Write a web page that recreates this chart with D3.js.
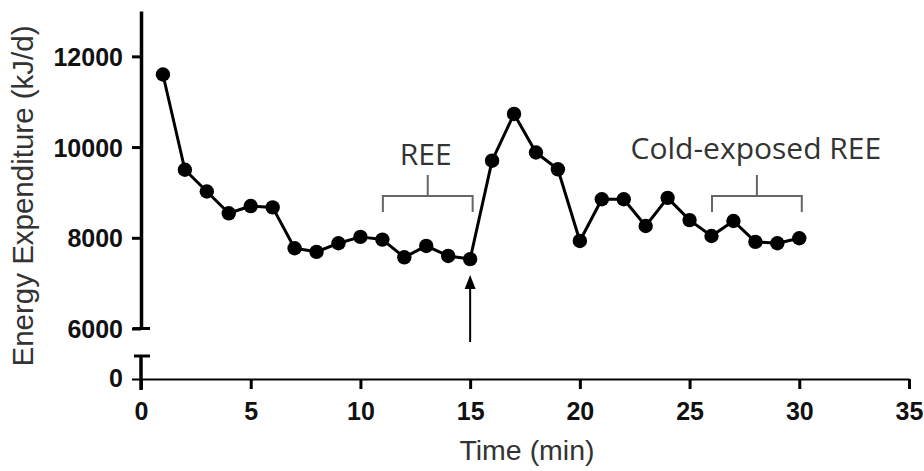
<!DOCTYPE html>
<html>
<head>
<meta charset="utf-8">
<script src="https://cdn.jsdelivr.net/npm/d3@7/dist/d3.min.js"></script>
<style>
  html, body { margin: 0; padding: 0; background: #fff; }
  svg { display: block; }
</style>
</head>
<body>
<svg id="chart" width="924" height="471"></svg>
<script>
// Energy expenditure measured each minute (kJ/d)
const times = [1, 2, 3, 4, 5, 6, 7, 8, 9, 10, 11, 12, 13, 14, 15,
               16, 17, 18, 19, 20, 21, 22, 23, 24, 25, 26, 27, 28, 29, 30];
const energy = [11600, 9500, 9020, 8540, 8700, 8670, 7770, 7690, 7880, 8020, 7960, 7570, 7820, 7600, 7530,
                9700, 10730, 9880, 9510, 7930, 8850, 8850, 8260, 8880, 8390, 8040, 8370, 7910, 7880, 7990];

const xTicks = [0, 5, 10, 15, 20, 25, 30, 35];
const yTicksUpper = [6000, 8000, 10000, 12000];
const yTicksLower = [0];

// Bracketed measurement windows and the marker for the start of cold exposure
const windows = [
  { label: "REE", start: 11, end: 15 },
  { label: "Cold-exposed REE", start: 26, end: 30 }
];
const coldStart = 15;

const svg = d3.select("#chart");

const x = d3.scaleLinear().domain([0, 35]).range([141, 909]);
const y = d3.scaleLinear().domain([6000, 13000]).range([328.5, 11]);
// Broken axis: a short lower segment holding only zero
const yLow = d3.scaleLinear().domain([0, 1000]).range([379, 356]);

const tickFont = "'Liberation Sans', Arial, sans-serif";
const fmt = d3.format("d");

// X axis
const xAxis = svg.append("g")
  .attr("transform", `translate(0,${yLow(0)})`)
  .call(d3.axisBottom(x).tickValues(xTicks).tickFormat(fmt).tickSize(10).tickSizeOuter(0).tickPadding(13));
xAxis.select(".domain").attr("stroke", "#000").attr("stroke-width", 2);
xAxis.selectAll(".tick line").attr("stroke", "#000").attr("stroke-width", 3);
xAxis.selectAll(".tick text")
  .attr("fill", "#111")
  .style("font-family", tickFont)
  .style("font-weight", "bold")
  .style("font-size", "25px");

// Upper Y axis
const yAxis = svg.append("g")
  .attr("transform", `translate(${x(0)},0)`)
  .call(d3.axisLeft(y).tickValues(yTicksUpper).tickFormat(fmt).tickSize(9).tickSizeOuter(0).tickPadding(9));
yAxis.select(".domain").attr("stroke", "#000").attr("stroke-width", 3.5);
yAxis.selectAll(".tick line").attr("stroke", "#000").attr("stroke-width", 3);
yAxis.selectAll(".tick text")
  .attr("fill", "#111")
  .attr("dy", "0.36em")
  .style("font-family", tickFont)
  .style("font-weight", "bold")
  .style("font-size", "25px");

// Break cap at the bottom of the upper segment
svg.append("line")
  .attr("x1", x(0) - 8).attr("x2", x(0) + 9)
  .attr("y1", y(6000)).attr("y2", y(6000))
  .attr("stroke", "#000").attr("stroke-width", 3);

// Lower Y axis segment
const yAxisLow = svg.append("g")
  .attr("transform", `translate(${x(0)},0)`)
  .call(d3.axisLeft(yLow).tickValues(yTicksLower).tickFormat(fmt).tickSize(9).tickSizeOuter(0).tickPadding(9));
yAxisLow.select(".domain").remove();
yAxisLow.selectAll(".tick line").attr("stroke", "#000").attr("stroke-width", 2);
yAxisLow.selectAll(".tick text")
  .attr("fill", "#111")
  .attr("dy", "0.3em")
  .style("font-family", tickFont)
  .style("font-weight", "bold")
  .style("font-size", "25px");

svg.append("line")
  .attr("x1", x(0)).attr("x2", x(0))
  .attr("y1", yLow(1000)).attr("y2", yLow(0) + 11)
  .attr("stroke", "#000").attr("stroke-width", 3.5);
svg.append("line")
  .attr("x1", x(0) - 7).attr("x2", x(0) + 9)
  .attr("y1", yLow(1000)).attr("y2", yLow(1000))
  .attr("stroke", "#000").attr("stroke-width", 3);

// Axis titles
svg.append("text")
  .attr("transform", `translate(33,${(y(13000) + yLow(0)) / 2 + 1}) rotate(-90)`)
  .attr("text-anchor", "middle")
  .attr("fill", "#333")
  .style("font-family", tickFont)
  .style("font-size", "29.5px")
  .text("Energy Expenditure (kJ/d)");

svg.append("text")
  .attr("x", (x(15) + x(20)) / 2 + 2)
  .attr("y", 460)
  .attr("text-anchor", "middle")
  .attr("fill", "#333")
  .style("font-family", tickFont)
  .style("font-size", "28.5px")
  .text("Time (min)");

// Data line and markers
const pts = times.map((t, i) => ({ t, v: energy[i] }));
const line = d3.line().x(d => x(d.t)).y(d => y(d.v));

svg.append("path")
  .datum(pts)
  .attr("d", line)
  .attr("fill", "none")
  .attr("stroke", "#000")
  .attr("stroke-width", 3)
  .attr("stroke-linejoin", "round");

svg.append("g")
  .selectAll("circle")
  .data(pts)
  .join("circle")
  .attr("cx", d => x(d.t))
  .attr("cy", d => y(d.v))
  .attr("r", 7.2)
  .attr("fill", "#000");

// Bracket annotations
const bracketY = y(8920);
const annoFont = "'Open Sans', 'Noto Sans', sans-serif";
windows.forEach(w => {
  const x1 = x(w.start) + 0.5, x2 = x(w.end) + 2.5, xm = (x1 + x2) / 2;
  svg.append("path")
    .attr("d", `M${x1},${bracketY + 16}V${bracketY}H${x2}V${bracketY + 16}M${xm},${bracketY}V${bracketY - 21}`)
    .attr("fill", "none")
    .attr("stroke", "#666")
    .attr("stroke-width", 2);
  svg.append("text")
    .attr("x", w.label === "REE" ? xm - 2 : xm - 1)
    .attr("y", w.label === "REE" ? bracketY - 31 : bracketY - 37)
    .attr("text-anchor", "middle")
    .attr("fill", "#333")
    .style("font-family", annoFont)
    .style("font-size", "30px")
    .text(w.label);
});

// Arrow marking the onset of cold exposure
const ax = x(coldStart);
svg.append("line")
  .attr("x1", ax).attr("x2", ax)
  .attr("y1", 287).attr("y2", 342)
  .attr("stroke", "#000").attr("stroke-width", 2);
svg.append("path")
  .attr("d", `M${ax},275L${ax - 5.5},289L${ax + 5.5},289Z`)
  .attr("fill", "#000");
</script>
</body>
</html>
